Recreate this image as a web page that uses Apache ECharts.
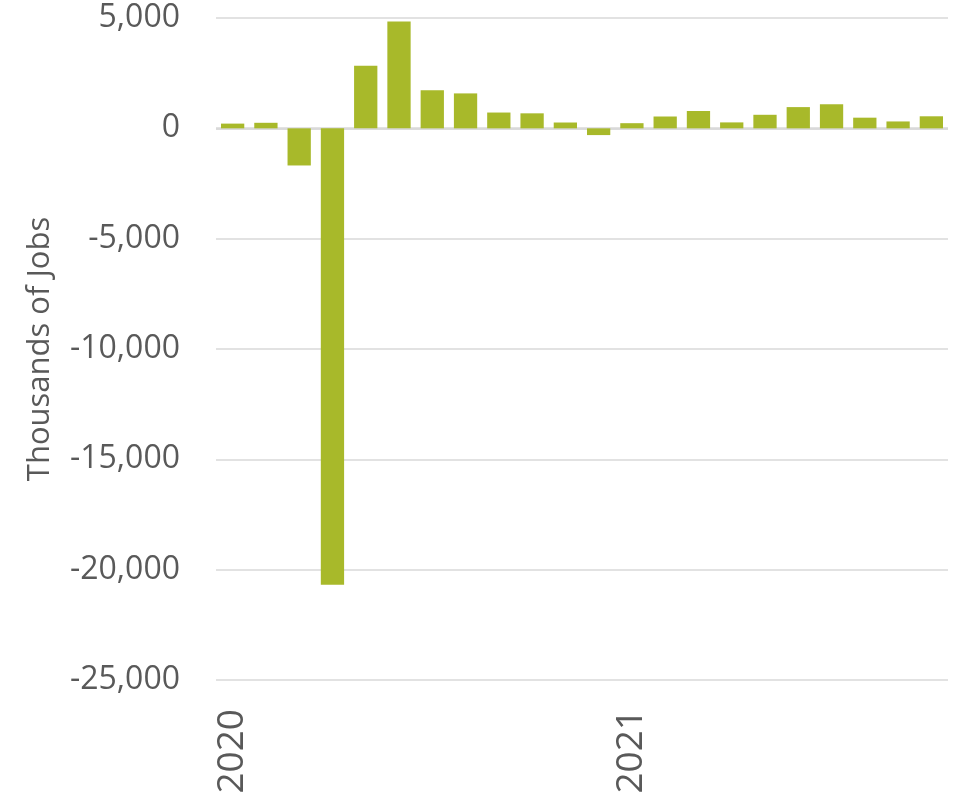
<!DOCTYPE html>
<html>
<head>
<meta charset="utf-8">
<script src="https://cdn.jsdelivr.net/npm/echarts@6/dist/echarts.min.js"></script>
<style>html,body{margin:0;padding:0;background:#fff}#c{width:961px;height:798px}</style>
</head>
<body>
<div id="c"></div>
<script>
var months = ['2020-01','2020-02','2020-03','2020-04','2020-05','2020-06','2020-07','2020-08','2020-09','2020-10','2020-11','2020-12',
              '2021-01','2021-02','2021-03','2021-04','2021-05','2021-06','2021-07','2021-08','2021-09','2021-10'];
var jobChange = [214, 251, -1683, -20679, 2833, 4846, 1726, 1583, 716, 680, 264, -306,
                 233, 536, 785, 269, 614, 962, 1091, 483, 312, 546];
var yTicks = { min: -25000, max: 5000, interval: 5000 };
var yName = 'Thousands of Jobs';

var chart = echarts.init(document.getElementById('c'), null, { renderer: 'canvas' });
chart.setOption({
  animation: false,
  backgroundColor: '#fff',
  grid: { left: 216, right: 13, top: 18, bottom: 118, containLabel: false },
  xAxis: {
    type: 'category',
    data: months,
    axisLine: { show: false, onZero: false },
    axisTick: { show: false },
    splitLine: { show: false },
    axisLabel: {
      interval: 11,
      rotate: 90,
      margin: 29,
      color: '#595959',
      fontSize: 37,
      fontFamily: 'Open Sans',
      formatter: function (v) { return v.slice(0, 4); }
    }
  },
  yAxis: {
    type: 'value',
    min: yTicks.min, max: yTicks.max, interval: yTicks.interval,
    name: yName,
    nameLocation: 'middle',
    nameGap: 160,
    nameTextStyle: { color: '#595959', fontSize: 31, fontFamily: 'Open Sans' },
    axisLine: { show: false },
    axisTick: { show: false },
    splitLine: { lineStyle: { color: '#d9d9d9', width: 1.5 } },
    axisLabel: {
      margin: 36,
      color: '#595959',
      fontSize: 32,
      fontFamily: 'Open Sans',
      formatter: function (v) { return v.toLocaleString('en-US'); }
    }
  },
  series: [{
    type: 'bar',
    data: jobChange,
    barCategoryGap: '30%',
    itemStyle: { color: '#A8B92A' },
    markLine: {
      silent: true,
      symbol: 'none',
      label: { show: false },
      lineStyle: { color: '#d9d9d9', width: 2.5, type: 'solid' },
      data: [{ yAxis: 0 }],
      z: 1
    },
    z: 3
  }]
});
</script>
</body>
</html>
